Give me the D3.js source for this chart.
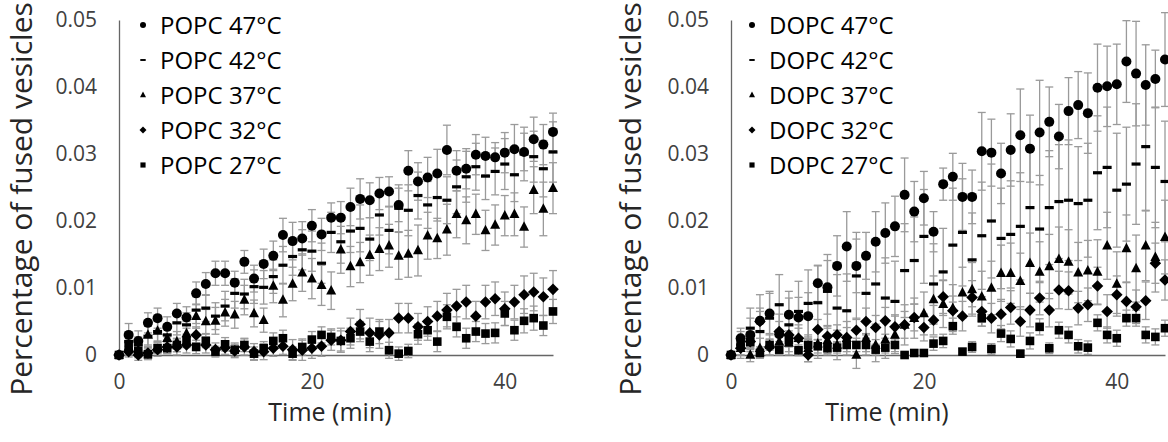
<!DOCTYPE html>
<html>
<head>
<meta charset="utf-8">
<script src="https://cdn.jsdelivr.net/npm/d3@7"></script>
<style>
body { margin: 0; background: #fff; }
svg { display: block; font-family: "Open Sans", sans-serif; }
</style>
</head>
<body>
<div id="svgContainer"></div>
<script>

// time points (min)
var times = [0, 1, 2, 3, 4, 5, 6, 7, 8, 9, 10, 11, 12, 13, 14, 15, 16, 17, 18, 19, 20, 21, 22,
             23, 24, 25, 26, 27, 28, 29, 30, 31, 32, 33, 34, 35, 36, 37, 38, 39, 40, 41, 42, 43, 44, 45];

var temps = ["47", "42", "37", "32", "27"];
var shapes = ["circle", "dash", "triangle", "diamond", "square"];
var yTicks = [0, 0.01, 0.02, 0.03, 0.04, 0.05];
var xTicks = [0, 20, 40];

// POPC
var popc47 = [0, 0.0030, 0.0021, 0.0048, 0.0055, 0.0042, 0.0062, 0.0056, 0.0092, 0.0106, 0.0122, 0.0122, 0.0108, 0.0139, 0.0114, 0.0136,
              0.0148, 0.0179, 0.0170, 0.0174, 0.0193, 0.0180, 0.0205, 0.0205, 0.0221, 0.0233, 0.0231, 0.0241, 0.0244, 0.0224, 0.0275,
              0.0259, 0.0265, 0.0271, 0.0306, 0.0275, 0.0278, 0.0299, 0.0297, 0.0295, 0.0302, 0.0307, 0.0303, 0.0322, 0.0314, 0.0333];
var popc47err = [0.0005, 0.0017, 0.0015, 0.0015, 0.0015, 0.0015, 0.0015, 0.0016, 0.0017, 0.0017, 0.0018, 0.0018, 0.0017, 0.0017, 0.0020, 0.0022,
                 0.0022, 0.0025, 0.0028, 0.0025, 0.0024, 0.0024, 0.0022, 0.0024, 0.0028, 0.0030, 0.0026, 0.0024, 0.0022, 0.0025, 0.0030,
                 0.0028, 0.0030, 0.0036, 0.0037, 0.0030, 0.0030, 0.0030, 0.0028, 0.0022, 0.0030, 0.0037, 0.0028, 0.0033, 0.0030, 0.0028];
var popc42 = [0, 0.0020, 0.0015, 0.0028, 0.0035, 0.0030, 0.0048, 0.0045, 0.0067, 0.0070, 0.0058, 0.0073, 0.0092, 0.0091, 0.0102, 0.0101,
              0.0117, 0.0134, 0.0147, 0.0157, 0.0155, 0.0137, 0.0183, 0.0169, 0.0185, 0.0189, 0.0173, 0.0209, 0.0186, 0.0219, 0.0216,
              0.0238, 0.0224, 0.0235, 0.0231, 0.0251, 0.0266, 0.0281, 0.0267, 0.0274, 0.0285, 0.0269, 0.0300, 0.0296, 0.0278, 0.0303];
var popc42err = [0.0005, 0.0012, 0.0012, 0.0015, 0.0015, 0.0015, 0.0018, 0.0018, 0.0020, 0.0020, 0.0020, 0.0022, 0.0022, 0.0022, 0.0025, 0.0025,
                 0.0025, 0.0028, 0.0028, 0.0030, 0.0030, 0.0030, 0.0030, 0.0032, 0.0032, 0.0035, 0.0032, 0.0030, 0.0035, 0.0035, 0.0038,
                 0.0035, 0.0035, 0.0035, 0.0035, 0.0040, 0.0038, 0.0035, 0.0035, 0.0035, 0.0038, 0.0040, 0.0040, 0.0038, 0.0042, 0.0045];
var popc37 = [0, 0.0012, 0.0008, 0.0030, 0.0036, 0.0025, 0.0020, 0.0032, 0.0058, 0.0050, 0.0051, 0.0063, 0.0060, 0.0082, 0.0062, 0.0052,
              0.0103, 0.0082, 0.0106, 0.0123, 0.0114, 0.0104, 0.0096, 0.0157, 0.0132, 0.0138, 0.0149, 0.0158, 0.0163, 0.0148, 0.0151,
              0.0156, 0.0178, 0.0174, 0.0187, 0.0210, 0.0201, 0.0210, 0.0186, 0.0194, 0.0208, 0.0210, 0.0191, 0.0246, 0.0218, 0.0249];
var popc37err = [0.0005, 0.0012, 0.0012, 0.0015, 0.0015, 0.0015, 0.0015, 0.0018, 0.0018, 0.0018, 0.0020, 0.0020, 0.0020, 0.0022, 0.0020, 0.0018,
                 0.0025, 0.0025, 0.0025, 0.0028, 0.0030, 0.0030, 0.0028, 0.0035, 0.0030, 0.0030, 0.0030, 0.0032, 0.0032, 0.0035, 0.0035,
                 0.0038, 0.0035, 0.0030, 0.0038, 0.0035, 0.0035, 0.0030, 0.0030, 0.0030, 0.0030, 0.0032, 0.0030, 0.0035, 0.0040, 0.0038];
var popc32 = [0, 0.0005, 0.0000, 0.0003, 0.0008, 0.0012, 0.0012, 0.0015, 0.0030, 0.0015, 0.0008, 0.0011, 0.0006, 0.0012, 0.0005, 0.0005,
              0.0010, 0.0013, 0.0008, 0.0007, 0.0010, 0.0013, 0.0022, 0.0022, 0.0035, 0.0046, 0.0033, 0.0030, 0.0033, 0.0055, 0.0055,
              0.0042, 0.0050, 0.0058, 0.0067, 0.0073, 0.0079, 0.0058, 0.0079, 0.0084, 0.0069, 0.0079, 0.0090, 0.0094, 0.0087, 0.0098];
var popc32err = [0.0003, 0.0008, 0.0008, 0.0008, 0.0010, 0.0010, 0.0012, 0.0012, 0.0012, 0.0012, 0.0010, 0.0010, 0.0010, 0.0012, 0.0012, 0.0012,
                 0.0012, 0.0012, 0.0015, 0.0015, 0.0015, 0.0015, 0.0015, 0.0018, 0.0020, 0.0022, 0.0022, 0.0020, 0.0020, 0.0022, 0.0022,
                 0.0020, 0.0022, 0.0022, 0.0025, 0.0025, 0.0025, 0.0022, 0.0025, 0.0025, 0.0025, 0.0025, 0.0028, 0.0028, 0.0028, 0.0028];
var popc27 = [0, 0.0012, 0.0006, 0.0001, 0.0010, 0.0010, 0.0015, 0.0021, 0.0012, 0.0021, 0.0005, 0.0016, 0.0008, 0.0015, 0.0002, 0.0010,
              0.0021, 0.0025, 0.0002, 0.0012, 0.0023, 0.0030, 0.0027, 0.0021, 0.0025, 0.0035, 0.0020, 0.0035, 0.0007, 0.0002, 0.0006,
              0.0031, 0.0037, 0.0020, 0.0057, 0.0042, 0.0025, 0.0035, 0.0032, 0.0033, 0.0062, 0.0037, 0.0051, 0.0055, 0.0044, 0.0065];
var popc27err = [0.0003, 0.0008, 0.0008, 0.0008, 0.0008, 0.0008, 0.0010, 0.0010, 0.0010, 0.0010, 0.0008, 0.0010, 0.0010, 0.0010, 0.0010, 0.0010,
                 0.0012, 0.0012, 0.0010, 0.0012, 0.0012, 0.0012, 0.0012, 0.0015, 0.0015, 0.0015, 0.0015, 0.0018, 0.0012, 0.0010, 0.0010,
                 0.0015, 0.0015, 0.0015, 0.0018, 0.0015, 0.0015, 0.0015, 0.0015, 0.0015, 0.0018, 0.0015, 0.0018, 0.0018, 0.0015, 0.0018];

// DOPC
var dopc47 = [0, 0.0025, 0.0030, 0.0051, 0.0062, 0.0031, 0.0060, 0.0056, 0.0058, 0.0107, 0.0101, 0.0133, 0.0162, 0.0133, 0.0148, 0.0169,
              0.0182, 0.0192, 0.0239, 0.0214, 0.0234, 0.0184, 0.0255, 0.0266, 0.0236, 0.0236, 0.0304, 0.0302, 0.0271, 0.0306, 0.0328,
              0.0308, 0.0332, 0.0348, 0.0326, 0.0364, 0.0373, 0.0361, 0.0399, 0.0401, 0.0404, 0.0438, 0.0420, 0.0403, 0.0412, 0.0441];
var dopc47err = [0.0005, 0.0015, 0.0025, 0.0039, 0.0030, 0.0030, 0.0035, 0.0030, 0.0035, 0.0027, 0.0040, 0.0045, 0.0052, 0.0040, 0.0035, 0.0045,
                 0.0045, 0.0045, 0.0055, 0.0045, 0.0040, 0.0030, 0.0024, 0.0035, 0.0050, 0.0040, 0.0058, 0.0050, 0.0045, 0.0054, 0.0069,
                 0.0050, 0.0078, 0.0052, 0.0048, 0.0050, 0.0050, 0.0060, 0.0065, 0.0060, 0.0060, 0.0061, 0.0078, 0.0060, 0.0043, 0.0070];
var dopc42 = [0, 0.0015, 0.0040, 0.0035, 0.0055, 0.0075, 0.0045, 0.0065, 0.0077, 0.0078, 0.0095, 0.0070, 0.0066, 0.0118, 0.0092, 0.0106,
              0.0085, 0.0080, 0.0126, 0.0141, 0.0177, 0.0106, 0.0124, 0.0164, 0.0183, 0.0142, 0.0178, 0.0200, 0.0174, 0.0180, 0.0192,
              0.0220, 0.0188, 0.0220, 0.0229, 0.0231, 0.0226, 0.0231, 0.0272, 0.0280, 0.0246, 0.0255, 0.0285, 0.0311, 0.0280, 0.0259];
var dopc42err = [0.0005, 0.0020, 0.0030, 0.0035, 0.0040, 0.0045, 0.0040, 0.0045, 0.0050, 0.0055, 0.0055, 0.0050, 0.0055, 0.0065, 0.0060, 0.0060,
                 0.0060, 0.0060, 0.0070, 0.0065, 0.0070, 0.0060, 0.0065, 0.0085, 0.0080, 0.0070, 0.0080, 0.0085, 0.0075, 0.0080, 0.0080,
                 0.0085, 0.0080, 0.0085, 0.0085, 0.0090, 0.0085, 0.0085, 0.0085, 0.0090, 0.0085, 0.0085, 0.0090, 0.0095, 0.0090, 0.0090];
var dopc37 = [0, 0.0010, 0.0000, 0.0010, 0.0015, 0.0020, 0.0018, 0.0025, 0.0010, 0.0017, 0.0022, 0.0015, 0.0025, 0.0000, 0.0025, 0.0015,
              0.0023, 0.0030, 0.0045, 0.0055, 0.0062, 0.0083, 0.0076, 0.0070, 0.0093, 0.0098, 0.0087, 0.0100, 0.0122, 0.0122, 0.0110,
              0.0137, 0.0124, 0.0132, 0.0143, 0.0139, 0.0123, 0.0126, 0.0124, 0.0163, 0.0106, 0.0159, 0.0129, 0.0163, 0.0146, 0.0176];
var dopc37err = [0.0005, 0.0010, 0.0010, 0.0015, 0.0015, 0.0018, 0.0018, 0.0020, 0.0020, 0.0022, 0.0022, 0.0022, 0.0025, 0.0020, 0.0025, 0.0025,
                 0.0028, 0.0028, 0.0030, 0.0030, 0.0032, 0.0035, 0.0035, 0.0035, 0.0038, 0.0040, 0.0038, 0.0040, 0.0042, 0.0045, 0.0042,
                 0.0045, 0.0045, 0.0048, 0.0048, 0.0048, 0.0045, 0.0045, 0.0048, 0.0050, 0.0048, 0.0050, 0.0050, 0.0052, 0.0052, 0.0055];
var dopc32 = [0, 0.0010, 0.0020, 0.0050, 0.0012, 0.0035, 0.0030, 0.0025, 0.0000, 0.0038, 0.0028, 0.0030, 0.0026, 0.0037, 0.0050, 0.0041,
              0.0051, 0.0042, 0.0045, 0.0056, 0.0041, 0.0052, 0.0087, 0.0066, 0.0058, 0.0086, 0.0065, 0.0055, 0.0061, 0.0071, 0.0050,
              0.0067, 0.0085, 0.0067, 0.0097, 0.0096, 0.0070, 0.0075, 0.0103, 0.0065, 0.0090, 0.0080, 0.0072, 0.0081, 0.0137, 0.0112];
var dopc32err = [0.0003, 0.0010, 0.0012, 0.0015, 0.0012, 0.0015, 0.0015, 0.0015, 0.0010, 0.0015, 0.0015, 0.0015, 0.0015, 0.0018, 0.0020, 0.0018,
                 0.0020, 0.0018, 0.0020, 0.0020, 0.0020, 0.0022, 0.0025, 0.0022, 0.0022, 0.0025, 0.0022, 0.0022, 0.0022, 0.0025, 0.0022,
                 0.0025, 0.0025, 0.0025, 0.0028, 0.0028, 0.0025, 0.0025, 0.0028, 0.0025, 0.0028, 0.0028, 0.0025, 0.0028, 0.0030, 0.0030];
var dopc27 = [0, 0.0018, 0.0019, 0.0003, 0.0015, 0.0008, 0.0022, 0.0007, 0.0015, 0.0013, 0.0010, 0.0011, 0.0015, 0.0015, 0.0015, 0.0008,
              0.0011, 0.0015, 0.0000, 0.0003, 0.0003, 0.0017, 0.0021, 0.0043, 0.0005, 0.0012, 0.0055, 0.0009, 0.0032, 0.0024, 0.0002,
              0.0021, 0.0042, 0.0010, 0.0037, 0.0030, 0.0013, 0.0011, 0.0048, 0.0030, 0.0025, 0.0055, 0.0055, 0.0030, 0.0027, 0.0040];
var dopc27err = [0.0003, 0.0008, 0.0008, 0.0006, 0.0008, 0.0008, 0.0010, 0.0008, 0.0010, 0.0010, 0.0008, 0.0008, 0.0010, 0.0010, 0.0010, 0.0008,
                 0.0008, 0.0010, 0.0003, 0.0005, 0.0005, 0.0010, 0.0010, 0.0012, 0.0005, 0.0008, 0.0012, 0.0008, 0.0012, 0.0012, 0.0005,
                 0.0012, 0.0012, 0.0008, 0.0012, 0.0012, 0.0010, 0.0010, 0.0012, 0.0012, 0.0012, 0.0012, 0.0012, 0.0012, 0.0012, 0.0012];


var WIDTH = 1168;
var HEIGHT = 442;
var PLOT_TOP = 20;
var PLOT_BOTTOM = 355;
var ERR_COLOR = "#9a9a9a";
var AXIS_COLOR = "#666";


function drawMarker(g, shape, size)
{
    // size = nominal width in px
    if (shape == "circle") {
        g.append("circle").attr("r", size / 2);
    } else if (shape == "dash") {
        g.append("rect")
         .attr("x", -size * 0.45).attr("y", -size * 0.16)
         .attr("width", size * 0.9).attr("height", size * 0.32);
    } else if (shape == "triangle") {
        var h = size * 0.95;
        g.append("path")
         .attr("d", "M0," + (-h * 0.6) + "L" + (size / 2) + "," + (h * 0.4) + "L" + (-size / 2) + "," + (h * 0.4) + "Z");
    } else if (shape == "diamond") {
        var r = size * 0.58;
        g.append("path").attr("d", "M0," + (-r) + "L" + r + ",0L0," + r + "L" + (-r) + ",0Z");
    } else {
        g.append("rect")
         .attr("x", -size * 0.43).attr("y", -size * 0.43)
         .attr("width", size * 0.86).attr("height", size * 0.86);
    }
}


function drawPanel(svg, panel)
{
    var x = d3.scaleLinear().domain([0, 45]).range([panel.left, panel.left + 434]);
    var y = d3.scaleLinear().domain([0, 0.05]).range([PLOT_BOTTOM, PLOT_TOP]);

    var g = svg.append("g").attr("class", "panel");

    // y axis
    var yAxis = g.append("g")
                 .attr("transform", "translate(" + panel.left + ",0)")
                 .call(d3.axisLeft(y).tickValues(yTicks).tickSize(0).tickSizeOuter(0).tickPadding(22)
                         .tickFormat(function(d) { return d === 0 ? "0" : d3.format(".2f")(d); }));
    yAxis.select(".domain").attr("stroke", AXIS_COLOR).attr("stroke-width", 1.3);
    yAxis.selectAll("text")
         .attr("fill", "#404040")
         .style("font-size", "21px")
         .style("font-family", "'Open Sans', sans-serif");

    // x axis
    var xAxis = g.append("g")
                 .attr("transform", "translate(0," + PLOT_BOTTOM + ")")
                 .call(d3.axisBottom(x).tickValues(xTicks).tickSize(0).tickSizeOuter(0).tickPadding(19));
    xAxis.select(".domain").attr("stroke", AXIS_COLOR).attr("stroke-width", 1.3);
    xAxis.selectAll("text")
         .attr("fill", "#404040")
         .style("font-size", "21px")
         .style("font-family", "'Open Sans', sans-serif");

    // axis titles
    g.append("text")
     .attr("transform", "translate(" + panel.yTitleX + ",199) rotate(-90)")
     .attr("text-anchor", "middle")
     .style("font-size", "30px")
     .attr("fill", "#262626")
     .text("Percentage of fused vesicles");

    g.append("text")
     .attr("x", panel.xTitleX)
     .attr("y", 421)
     .attr("text-anchor", "middle")
     .style("font-size", "25px")
     .attr("fill", "#262626")
     .text("Time (min)");

    // legend
    var legend = g.selectAll(".legend")
                  .data(panel.series)
                  .enter().append("g")
                  .attr("class", "legend")
                  .attr("transform", function(d, i) { return "translate(" + panel.legendX + "," + (25 + i * 35) + ")"; });
    legend.each(function(d) {
        var m = d3.select(this).append("g").attr("fill", "#000");
        drawMarker(m, d.shape, 6);
    });
    legend.append("text")
          .attr("x", 17)
          .attr("dy", "0.36em")
          .style("font-size", "24px")
          .attr("fill", "#000")
          .text(function(d) { return panel.lipid + " " + d.temp + "\u00b0C"; });

    // error bars
    panel.series.forEach(function(s) {
        var eb = g.append("g").attr("class", "errbars")
                  .attr("stroke", ERR_COLOR).attr("stroke-width", 1.3);
        var pts = times.map(function(t, i) { return { t: t, v: s.values[i], e: s.err[i] }; });
        eb.selectAll(".stem")
          .data(pts).enter().append("line")
          .attr("x1", function(d) { return x(d.t); })
          .attr("x2", function(d) { return x(d.t); })
          .attr("y1", function(d) { return y(d.v - d.e); })
          .attr("y2", function(d) { return y(d.v + d.e); });
        eb.selectAll(".capTop")
          .data(pts).enter().append("line")
          .attr("x1", function(d) { return x(d.t) - 4; })
          .attr("x2", function(d) { return x(d.t) + 4; })
          .attr("y1", function(d) { return y(d.v + d.e); })
          .attr("y2", function(d) { return y(d.v + d.e); });
        eb.selectAll(".capBot")
          .data(pts).enter().append("line")
          .attr("x1", function(d) { return x(d.t) - 4; })
          .attr("x2", function(d) { return x(d.t) + 4; })
          .attr("y1", function(d) { return y(d.v - d.e); })
          .attr("y2", function(d) { return y(d.v - d.e); });
    });

    // markers, 27 first so 47 is on top
    panel.series.slice().reverse().forEach(function(s) {
        var mg = g.append("g").attr("class", "markers").attr("fill", "#000");
        mg.selectAll(".pt")
          .data(times.map(function(t, i) { return { t: t, v: s.values[i] }; }))
          .enter().append("g")
          .attr("class", "pt")
          .attr("transform", function(d) { return "translate(" + x(d.t) + "," + y(d.v) + ")"; })
          .each(function() { drawMarker(d3.select(this), s.shape, 10); });
    });
}


function makeSeries(vals, errs)
{
    return temps.map(function(t, i) {
        return { temp: t, shape: shapes[i], values: vals[i], err: errs[i] };
    });
}


var svg = d3.select("#svgContainer").append("svg")
            .attr("width", WIDTH)
            .attr("height", HEIGHT);

drawPanel(svg, {
    lipid: "POPC",
    left: 119,
    yTitleX: 32,
    xTitleX: 330,
    legendX: 143,
    series: makeSeries([popc47, popc42, popc37, popc32, popc27],
                       [popc47err, popc42err, popc37err, popc32err, popc27err])
});

drawPanel(svg, {
    lipid: "DOPC",
    left: 731,
    yTitleX: 641,
    xTitleX: 887,
    legendX: 752,
    series: makeSeries([dopc47, dopc42, dopc37, dopc32, dopc27],
                       [dopc47err, dopc42err, dopc37err, dopc32err, dopc27err])
});

</script>
</body>
</html>
